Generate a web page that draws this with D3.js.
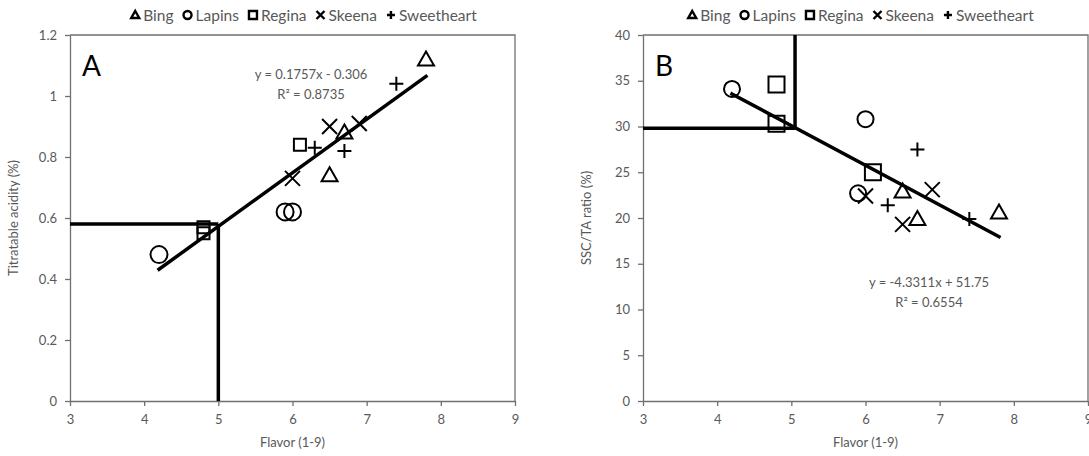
<!DOCTYPE html>
<html>
<head>
<meta charset="utf-8">
<script src="https://cdn.jsdelivr.net/npm/d3@7"></script>
<style>
    body { margin: 0; background: #fff; }
    text { font-family: Lato, "Liberation Sans", sans-serif; }
</style>
</head>
<body>
<svg id="chart" width="1089" height="456"></svg>
<script>
// cultivars and the marker each one uses
const cultivars = ["Bing", "Lapins", "Regina", "Skeena", "Sweetheart"];
const markerTypes = ["triangle", "circle", "square", "times", "plus"];

// flavor score (1-9), three samples per cultivar
const flavorBing = [7.8, 6.7, 6.5];
const flavorLapins = [4.2, 5.9, 6.0];
const flavorRegina = [6.1, 4.8, 4.8];
const flavorSkeena = [6.5, 6.9, 6.0];
const flavorSweetheart = [7.4, 6.3, 6.7];

// titratable acidity (%)
const taBing = [1.12, 0.88, 0.74];
const taLapins = [0.48, 0.62, 0.62];
const taRegina = [0.84, 0.57, 0.55];
const taSkeena = [0.90, 0.91, 0.73];
const taSweetheart = [1.04, 0.83, 0.82];

// SSC/TA ratio
const ratioBing = [20.6, 19.9, 22.9];
const ratioLapins = [34.1, 22.7, 30.8];
const ratioRegina = [25.0, 34.6, 30.3];
const ratioSkeena = [19.3, 23.1, 22.4];
const ratioSweetheart = [19.9, 21.4, 27.5];

// regression fits and threshold lines
const fitA = [0.1757, -0.306];
const fitB = [-4.3311, 51.75];
const thresholdA = [5.0, 0.58];
const thresholdB = [5.05, 29.8];

// tick labels
const xTicks = [3, 4, 5, 6, 7, 8, 9];
const yTicksA = [0, 0.2, 0.4, 0.6, 0.8, 1, 1.2];
const yTicksB = [0, 5, 10, 15, 20, 25, 30, 35, 40];

const flavors = [flavorBing, flavorLapins, flavorRegina, flavorSkeena, flavorSweetheart];
const tas = [taBing, taLapins, taRegina, taSkeena, taSweetheart];
const ratios = [ratioBing, ratioLapins, ratioRegina, ratioSkeena, ratioSweetheart];

let rows = [];
cultivars.forEach((c, i) => {
    flavors[i].forEach((f, j) => {
        rows.push({cultivar: c, marker: markerTypes[i], flavor: f, ta: tas[i][j], ratio: ratios[i][j]});
    });
});

const svg = d3.select("#chart");
const grey = "#595959";
const fmt = d => String(+d.toFixed(1));

// open marker shapes, s = half size
function markerPath(type, s) {
    switch (type) {
        case "triangle": return `M0,${-s}L${s},${s * 0.75}L${-s},${s * 0.75}Z`;
        case "circle": return `M${s},0A${s},${s} 0 1,1 ${-s},0A${s},${s} 0 1,1 ${s},0Z`;
        case "square": return `M${-s},${-s}H${s}V${s}H${-s}Z`;
        case "times": return `M${-s},${-s}L${s},${s}M${-s},${s}L${s},${-s}`;
        case "plus": return `M${-s},0H${s}M0,${-s}V${s}`;
    }
}

function drawPanel(p) {
    let g = svg.append("g");
    let top = 35, bottom = 401;

    let x = d3.scaleLinear().domain([3, 9]).range([p.left, p.right]);
    let y = d3.scaleLinear().domain(p.yDomain).range([bottom, top]);

    // top / right frame
    g.append("path")
        .attr("d", `M${p.left},${top}H${p.right}V${bottom}`)
        .attr("fill", "none")
        .attr("stroke", "#707070")
        .attr("stroke-width", 1.3);

    let xAxis = g.append("g")
        .attr("transform", `translate(0,${bottom})`)
        .call(d3.axisBottom(x).tickValues(xTicks).tickSize(5).tickSizeOuter(0).tickPadding(9).tickFormat(fmt));

    let yAxis = g.append("g")
        .attr("transform", `translate(${p.left},0)`)
        .call(d3.axisLeft(y).tickValues(p.yTicks).tickSize(5).tickSizeOuter(0).tickPadding(8).tickFormat(fmt));

    [xAxis, yAxis].forEach(a => {
        a.select(".domain").attr("stroke", "#707070").attr("stroke-width", 1.3);
        a.selectAll(".tick line").attr("stroke", "#707070").attr("stroke-width", 1.3);
        a.selectAll(".tick text").attr("fill", grey).style("font-size", "13px");
    });

    // threshold lines
    g.append("line")
        .attr("x1", x(3)).attr("x2", x(p.threshold[0]))
        .attr("y1", y(p.threshold[1])).attr("y2", y(p.threshold[1]))
        .attr("stroke", "#000").attr("stroke-width", 3.5);
    g.append("line")
        .attr("x1", x(p.threshold[0])).attr("x2", x(p.threshold[0]))
        .attr("y1", y(p.threshold[1])).attr("y2", y(p.vEnd))
        .attr("stroke", "#000").attr("stroke-width", 3.5);

    // markers
    g.selectAll("path.pt")
        .data(rows)
        .enter().append("path")
        .attr("class", "pt")
        .attr("transform", d => `translate(${x(d.flavor)},${y(d[p.key])})`)
        .attr("d", d => markerPath(d.marker, d.marker === "square" ? p.squareSize : p.markerSize[d.marker]))
        .attr("fill", "none")
        .attr("stroke", "#000")
        .attr("stroke-width", 2);

    // trend line
    let ext = d3.extent(rows, d => d.flavor);
    g.append("path")
        .datum(ext)
        .attr("d", d3.line().x(d => x(d)).y(d => y(p.fit[0] * d + p.fit[1])))
        .attr("stroke", "#000")
        .attr("stroke-width", 3.5)
        .attr("stroke-linecap", "square");

    // equation
    g.append("text")
        .attr("x", p.eq[0]).attr("y", p.eq[1])
        .attr("text-anchor", "middle")
        .attr("fill", grey).style("font-size", "13px")
        .text(p.eqText);
    g.append("text")
        .attr("x", p.eq[0]).attr("y", p.eq[1] + 20)
        .attr("text-anchor", "middle")
        .attr("fill", grey).style("font-size", "13px")
        .text(p.r2Text);

    // panel letter
    g.append("text")
        .attr("x", p.left + 12).attr("y", 76)
        .style("font-size", "28px")
        .attr("fill", "#000")
        .text(p.letter);

    // axis titles
    g.append("text")
        .attr("x", (p.left + p.right) / 2).attr("y", 447)
        .attr("text-anchor", "middle")
        .attr("fill", grey).style("font-size", "13px")
        .text("Flavor (1-9)");
    g.append("text")
        .attr("transform", `translate(${p.left - 52},${(top + bottom) / 2}) rotate(-90)`)
        .attr("text-anchor", "middle")
        .attr("fill", grey).style("font-size", "13px")
        .text(p.yTitle);

    // legend
    let legend = g.append("g");
    let cx = 0;
    cultivars.forEach((c, i) => {
        legend.append("path")
            .attr("transform", `translate(${cx + 4},${15})`)
            .attr("d", markerPath(markerTypes[i], 4))
            .attr("fill", "none").attr("stroke", "#000").attr("stroke-width", 2.4);
        let t = legend.append("text")
            .attr("x", cx + 12).attr("y", 20.5)
            .attr("fill", grey).style("font-size", "15.5px")
            .text(c);
        cx += 12 + t.node().getComputedTextLength() + 10;
    });
    legend.attr("transform", `translate(${p.legendCenter - (cx - 10) / 2},0)`);
}

drawPanel({
    left: 70, right: 515, yDomain: [0, 1.2], yTicks: yTicksA, key: "ta",
    fit: fitA, threshold: thresholdA, vEnd: 0,
    eq: [311, 79], eqText: "y = 0.1757x  - 0.306", r2Text: "R² = 0.8735",
    letter: "A", yTitle: "Titratable acidity (%)", legendCenter: 304,
    squareSize: 6, markerSize: {triangle: 8, circle: 8.5, times: 7.5, plus: 7}
});

drawPanel({
    left: 643, right: 1088, yDomain: [0, 40], yTicks: yTicksB, key: "ratio",
    fit: fitB, threshold: thresholdB, vEnd: 40,
    eq: [929, 287], eqText: "y = -4.3311x + 51.75", r2Text: "R² = 0.6554",
    letter: "B", yTitle: "SSC/TA ratio (%)", legendCenter: 861,
    squareSize: 8, markerSize: {triangle: 8, circle: 8, times: 7.5, plus: 7}
});
</script>
</body>
</html>
